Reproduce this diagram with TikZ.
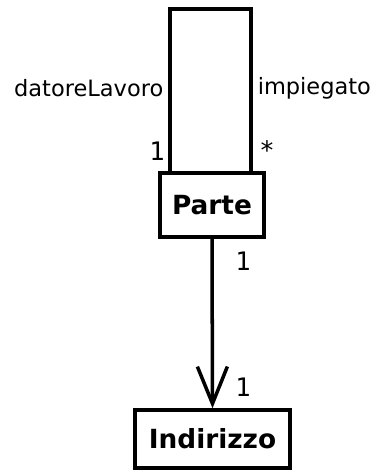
\documentclass[tikz,border=0pt]{standalone}
\usepackage{fontspec}
\setmainfont{DejaVu Sans}
\newfontfamily\multfont{DejaVu Sans Mono}
\usetikzlibrary{arrows.meta}

\begin{document}
\begin{tikzpicture}[x=0.02cm,y=-0.02cm,line width=2pt,
    classe/.style={draw,rectangle,inner sep=0pt,font=\fontsize{15}{17}\selectfont\bfseries},
    ruolo/.style={inner sep=0pt,font=\fontsize{12.8}{15}\selectfont},
    molt/.style={inner sep=0pt,font=\fontsize{14.5}{16}\selectfont\multfont}]
  \useasboundingbox (0,0) rectangle (372,475);
  % classi
  \node[classe,minimum width=2.08cm,minimum height=1.28cm] (parte) at (212,205) {Parte};
  \node[classe,minimum width=3.1cm,minimum height=1.16cm] (indirizzo) at (212.5,439) {Indirizzo};
  % associazione riflessiva
  \coordinate (LA) at (170,9);
  \coordinate (LB) at (251,9);
  \draw (parte.north -| LA) -- (LA) -- (LB) -- (parte.north -| LB);
  \node[ruolo,anchor=east] (datore) at (165,88) {datoreLavoro};
  \node[ruolo,anchor=west] (impiegato) at (256,88) {impiegato};
  \node[molt] (m1) at (157,151) {1};
  \node[molt] (m2) at (267,150) {*};
  % associazione verso Indirizzo
  \draw[-{Straight Barb[length=0.74cm,width=0.6cm]}] (parte.south) -- (indirizzo.north);
  \node[molt] (m3) at (243,261) {1};
  \node[molt] (m4) at (243,387) {1};
\end{tikzpicture}
\end{document}
